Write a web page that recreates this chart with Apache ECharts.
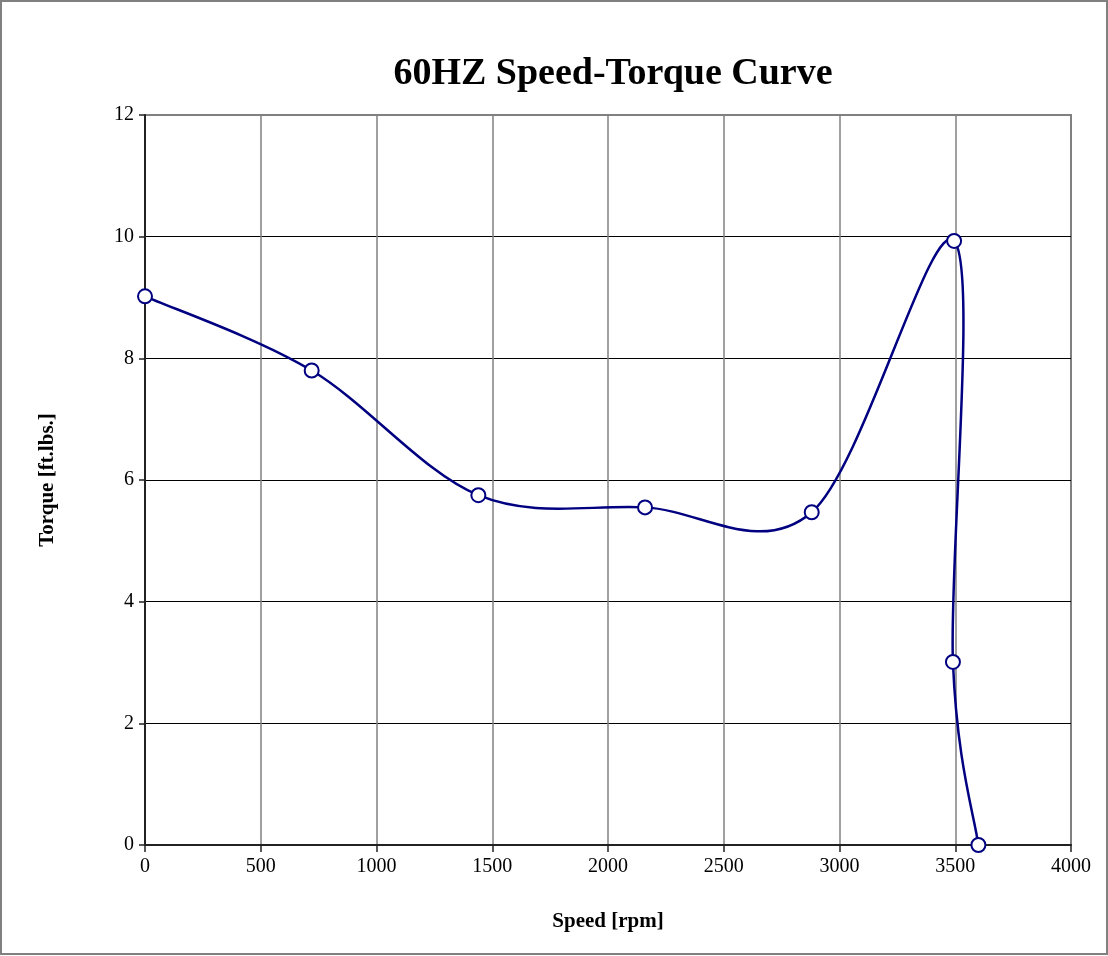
<!DOCTYPE html>
<html>
<head>
<meta charset="utf-8">
<script src="https://cdn.jsdelivr.net/npm/echarts@6/dist/echarts.min.js"></script>
<style>
  html, body { margin: 0; padding: 0; background: #fff; }
  #chart { width: 1108px; height: 956px; }
</style>
</head>
<body>
<div id="chart"></div>
<script>
// speed (rpm) and torque (ft.lbs.)
const speed = [0, 720, 1440, 2160, 2880, 3495, 3490, 3600]
const torque = [9.02, 7.8, 5.75, 5.55, 5.47, 9.93, 3.01, 0]

const font = "'Liberation Serif', 'Times New Roman', serif"
const navy = "#000080"

const chart = echarts.init(document.getElementById("chart"))

window.addEventListener("resize", function () {
  chart.resize()
})

// excel style smoothed line: catmull-rom segments, control points in pixel space
function renderSegment(params, api) {
  const i = params.dataIndex
  if (i >= speed.length - 1) return null
  const pt = (k) => {
    const j = Math.max(0, Math.min(speed.length - 1, k))
    return api.coord([speed[j], torque[j]])
  }
  const p0 = pt(i - 1)
  const p1 = pt(i)
  const p2 = pt(i + 1)
  const p3 = pt(i + 2)
  return {
    type: "bezierCurve",
    shape: {
      x1: p1[0],
      y1: p1[1],
      cpx1: p1[0] + (p2[0] - p0[0]) / 6,
      cpy1: p1[1] + (p2[1] - p0[1]) / 6,
      cpx2: p2[0] - (p3[0] - p1[0]) / 6,
      cpy2: p2[1] - (p3[1] - p1[1]) / 6,
      x2: p2[0],
      y2: p2[1],
    },
    style: { fill: null, stroke: navy, lineWidth: 2.5 },
  }
}

const points = speed.map((s, i) => [s, torque[i]])

const option = {
  animation: false,
  backgroundColor: "#fff",
  title: {
    text: "60HZ Speed-Torque Curve",
    left: 608,
    textAlign: "center",
    top: 50,
    textStyle: { fontFamily: font, fontSize: 38, fontWeight: "bold", color: "#000" },
  },
  graphic: [
    {
      type: "rect",
      shape: { x: 1, y: 1, width: 1106, height: 953 },
      style: { fill: "none", stroke: "#808080", lineWidth: 2 },
      silent: true,
    },
  ],
  grid: {
    left: 145,
    right: 37,
    top: 115,
    bottom: 111,
    show: true,
    borderColor: "#808080",
    borderWidth: 2,
    backgroundColor: "transparent",
  },
  xAxis: {
    type: "value",
    min: 0,
    max: 4000,
    interval: 500,
    name: "Speed [rpm]",
    nameLocation: "middle",
    nameGap: 66,
    nameTextStyle: { fontFamily: font, fontSize: 21, fontWeight: "bold", color: "#000" },
    axisLine: { show: true, lineStyle: { color: "#222", width: 2 } },
    axisTick: { show: true, length: 7, lineStyle: { color: "#222", width: 1.5 } },
    axisLabel: {
      fontFamily: font,
      fontSize: 20,
      color: "#000",
      margin: 12,
      formatter: (v) => String(v),
    },
    splitLine: { show: true, showMaxLine: false, lineStyle: { color: "#808080", width: 1.5 } },
  },
  yAxis: {
    type: "value",
    min: 0,
    max: 12,
    interval: 2,
    name: "Torque [ft.lbs.]",
    nameLocation: "middle",
    nameGap: 87,
    nameTextStyle: { fontFamily: font, fontSize: 21, fontWeight: "bold", color: "#000" },
    axisLine: { show: true, lineStyle: { color: "#222", width: 2 } },
    axisTick: { show: true, length: 6, lineStyle: { color: "#222", width: 1.5 } },
    axisLabel: {
      fontFamily: font,
      fontSize: 20,
      color: "#000",
      margin: 11,
      formatter: (v) => String(v),
    },
    splitLine: { show: true, showMaxLine: false, lineStyle: { color: "#000", width: 1 } },
  },
  series: [
    {
      type: "custom",
      renderItem: renderSegment,
      data: points,
      z: 4,
      silent: true,
    },
    {
      type: "scatter",
      data: points,
      symbol: "circle",
      symbolSize: 14,
      itemStyle: { color: "#fff", borderColor: navy, borderWidth: 2, opacity: 1 },
      z: 5,
    },
  ],
}

option && chart.setOption(option)
</script>
</body>
</html>
